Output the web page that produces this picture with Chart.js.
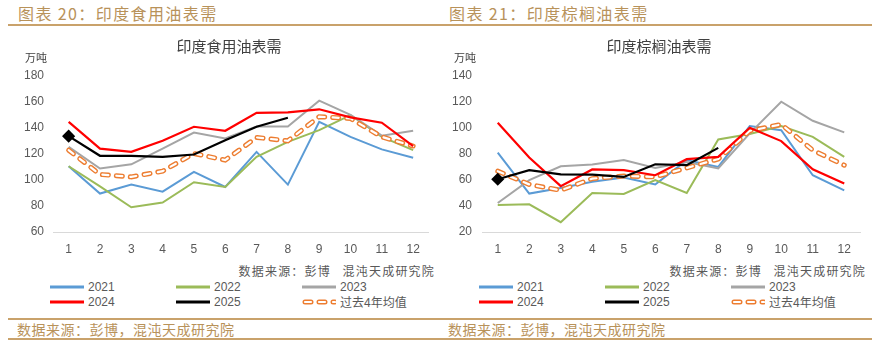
<!DOCTYPE html>
<html>
<head>
<meta charset="utf-8">
<script src="https://cdn.jsdelivr.net/npm/chart.js@4.4.1/dist/chart.umd.min.js"></script>
<style>
  body { margin: 0; width: 872px; height: 340px; background: #fff; position: relative; overflow: hidden;
         font-family: "Noto Sans CJK SC", sans-serif; }
  .panel { position: absolute; top: 0; width: 436px; height: 340px; }
  .hdr { position: absolute; top: 2px; font-size: 16px; line-height: 22px; color: #b8925a; letter-spacing: 1.4px; white-space: nowrap; }
  .rule { position: absolute; height: 1.5px; background: #c9a26b; }
  .wrap { position: absolute; top: 30px; height: 226px; }
  .ttl { position: absolute; top: 36px; width: 200px; margin-left: -100px; text-align: center; font-size: 15px; line-height: 20px; color: #404040; }
  .unit { position: absolute; top: 50px; font-size: 11px; line-height: 14px; color: #404040; }
  .src { position: absolute; top: 263px; font-size: 12px; line-height: 16px; color: #595959; white-space: pre; letter-spacing: 1.2px; }
  .legend { position: absolute; top: 279px; display: grid; grid-template-columns: 126px 126px 126px; grid-auto-rows: 15px; }
  .legend .item { display: flex; align-items: center; font-size: 12px; color: #595959; white-space: nowrap;
                  font-family: "Liberation Sans", "Noto Sans CJK SC", sans-serif; }
  .legend svg { margin-right: 4px; }
  .foot { position: absolute; top: 320px; font-size: 14px; line-height: 18px; color: #b8925a; letter-spacing: 0.5px; white-space: nowrap; }
</style>
</head>
<body>

<div class="panel" style="left:0">
  <div class="hdr" style="left:18px">图表 20：印度食用油表需</div>
  <div class="rule" style="left:8px; width:428px; top:24px"></div>
  <div class="wrap" style="left:8px; width:428px"><canvas id="edibleChart" width="428" height="226"></canvas></div>
  <div class="ttl" style="left:229px">印度食用油表需</div>
  <div class="unit" style="left:25px">万吨</div>
  <div class="src" style="right:1px">数据来源：彭博   混沌天成研究院</div>
  <div class="legend" id="edibleLegend" style="left:50px"></div>
  <div class="rule" style="left:8px; width:428px; top:318px"></div>
  <div class="foot" style="left:17px">数据来源：彭博，混沌天成研究院</div>
  <div class="rule" style="left:8px; width:428px; top:338px"></div>
</div>

<div class="panel" style="left:436px">
  <div class="hdr" style="left:13px">图表 21：印度棕榈油表需</div>
  <div class="rule" style="left:0; width:436px; top:24px"></div>
  <div class="wrap" style="left:0; width:432px"><canvas id="palmChart" width="432" height="226"></canvas></div>
  <div class="ttl" style="left:223px">印度棕榈油表需</div>
  <div class="unit" style="left:18px">万吨</div>
  <div class="src" style="right:6px">数据来源：彭博   混沌天成研究院</div>
  <div class="legend" id="palmLegend" style="left:43px"></div>
  <div class="rule" style="left:0; width:436px; top:318px"></div>
  <div class="foot" style="left:12px">数据来源：彭博，混沌天成研究院</div>
  <div class="rule" style="left:0; width:436px; top:338px"></div>
</div>

<script>
// Months on the x axis
const months = ['1', '2', '3', '4', '5', '6', '7', '8', '9', '10', '11', '12'];

// Edible oil demand, 10k tonnes
const edibleTicks = [60, 80, 100, 120, 140, 160, 180];
const edible2021 = [110.5, 89.5, 96.4, 91, 106.2, 94.6, 121.5, 96.4, 144.6, 133, 123.4, 117];
const edible2022 = [110.5, 95, 79, 82.6, 98.2, 94.6, 117.7, 129.2, 138.2, 149.8, 133, 122.8];
const edible2023 = [125.4, 108.7, 112, 124, 136.4, 131.8, 141, 141, 160.8, 150, 134, 137.7];
const edible2024 = [144.6, 124, 121.5, 130, 140.8, 137.7, 151.5, 151.8, 154.2, 148, 143.9, 126];
const edible2025 = [133.6, 118.5, 118.5, 117.7, 119.5, 130.5, 140.8, 147.7];
const edibleAvg = [122.8, 104.2, 102.3, 106.7, 120.3, 115.2, 132.6, 130, 148.5, 147.2, 133, 126];

// Palm oil demand, 10k tonnes
const palmTicks = [20, 40, 60, 80, 100, 120, 140];
const palm2021 = [81, 49.5, 53.8, 58.5, 61.8, 56.5, 75.2, 70, 101.3, 98.2, 63.6, 52];
const palm2022 = [40.8, 41.3, 27.5, 50, 49.2, 59.8, 50, 91.1, 95.2, 101.3, 93, 77.7];
const palm2023 = [42.3, 59.8, 70.5, 71.8, 75.2, 69.2, 73.8, 68.8, 95.7, 120, 105.4, 96.5];
const palm2024 = [103.9, 77.2, 55.2, 68, 67.5, 63.6, 75.9, 77.7, 100, 89.8, 68.2, 57.2];
const palm2025 = [60.5, 67.5, 64.2, 64, 62.3, 72, 71.3, 84.6];
const palmAvg = [66.7, 56.5, 52, 61, 63, 62.3, 69.2, 76, 97.7, 102.6, 82.8, 71.3];

const AVG_DASH = [6, 8];

// Builds the legend rows as plain HTML from the chart's datasets
const htmlLegend = {
    id: 'htmlLegend',
    afterUpdate(chart, args, opts) {
        const box = document.getElementById(opts.containerID);
        box.innerHTML = '';
        chart.data.datasets.forEach(ds => {
            if (ds.legendHidden) return;
            const item = document.createElement('div');
            item.className = 'item';
            let svg;
            if (ds.borderDash && ds.borderDash.length) {
                const d = ds.borderDash.join(' ');
                svg = `<svg width="34" height="8"><line x1="3" y1="4" x2="33" y2="4" stroke="${ds.borderColor}" stroke-width="5" stroke-linecap="round" stroke-dasharray="${d}"/>` +
                      `<line x1="3" y1="4" x2="33" y2="4" stroke="#fff" stroke-width="2.2" stroke-linecap="round" stroke-dasharray="${d}"/></svg>`;
            } else {
                svg = `<svg width="34" height="8"><line x1="0" y1="4" x2="34" y2="4" stroke="${ds.borderColor}" stroke-width="3"/></svg>`;
            }
            item.innerHTML = svg + '<span>' + ds.label + '</span>';
            box.appendChild(item);
        });
    }
};

function lineSet(label, data, color, order, width) {
    return {
        label: label,
        data: data,
        borderColor: color,
        backgroundColor: color,
        borderWidth: width || 2,
        pointRadius: 0,
        tension: 0,
        order: order
    };
}

function buildChart(canvasId, legendId, ticks, s21, s22, s23, s24, s25, avg, pad) {
    const ctx = document.getElementById(canvasId).getContext('2d');

    const ds25 = lineSet('2025', s25, '#000000', 0, 2.2);
    ds25.pointStyle = 'rectRot';
    ds25.pointRadius = c => (c.dataIndex === 0 ? 5 : 0);

    const dsAvg = lineSet('过去4年均值', avg, '#ed7d31', 3, 5);
    dsAvg.borderDash = AVG_DASH;
    dsAvg.borderCapStyle = 'round';

    // white core drawn over the orange dashes to make them hollow
    const dsAvgCore = lineSet('avg-core', avg, '#ffffff', 2, 2.2);
    dsAvgCore.borderDash = AVG_DASH;
    dsAvgCore.borderCapStyle = 'round';
    dsAvgCore.legendHidden = true;

    return new Chart(ctx, {
        type: 'line',
        data: {
            labels: months,
            datasets: [
                lineSet('2021', s21, '#5b9bd5', 6),
                lineSet('2022', s22, '#9bbb59', 5),
                lineSet('2023', s23, '#a5a5a5', 4),
                lineSet('2024', s24, '#ff0000', 1, 2.2),
                ds25,
                dsAvg,
                dsAvgCore
            ]
        },
        plugins: [htmlLegend],
        options: {
            responsive: false,
            animation: false,
            devicePixelRatio: 1,
            layout: { padding: { left: pad.left, right: pad.right, top: 45.7, bottom: 0 } },
            plugins: {
                legend: { display: false },
                tooltip: { enabled: false },
                htmlLegend: { containerID: legendId }
            },
            scales: {
                x: {
                    offset: true,
                    grid: { display: false, drawTicks: false },
                    border: { color: '#d9d9d9', width: 1 },
                    ticks: {
                        color: '#595959',
                        font: { family: 'Liberation Sans', size: 12 },
                        padding: 10,
                        maxRotation: 0
                    },
                    afterFit(scale) { scale.height = 24; }
                },
                y: {
                    min: ticks[0],
                    max: ticks[ticks.length - 1],
                    grid: { display: false, drawTicks: false },
                    border: { display: false },
                    ticks: {
                        color: '#595959',
                        font: { family: 'Liberation Sans', size: 12 },
                        padding: pad.tick
                    },
                    afterBuildTicks(scale) {
                        scale.ticks = ticks.map(v => ({ value: v }));
                    },
                    afterFit(scale) { scale.width = pad.axis; }
                }
            }
        }
    });
}

buildChart('edibleChart', 'edibleLegend', edibleTicks,
    edible2021, edible2022, edible2023, edible2024, edible2025, edibleAvg,
    { left: 13, right: 6, axis: 32, tick: 9 });

buildChart('palmChart', 'palmLegend', palmTicks,
    palm2021, palm2022, palm2023, palm2024, palm2025, palmAvg,
    { left: 14, right: 8, axis: 32, tick: 10 });
</script>
</body>
</html>
